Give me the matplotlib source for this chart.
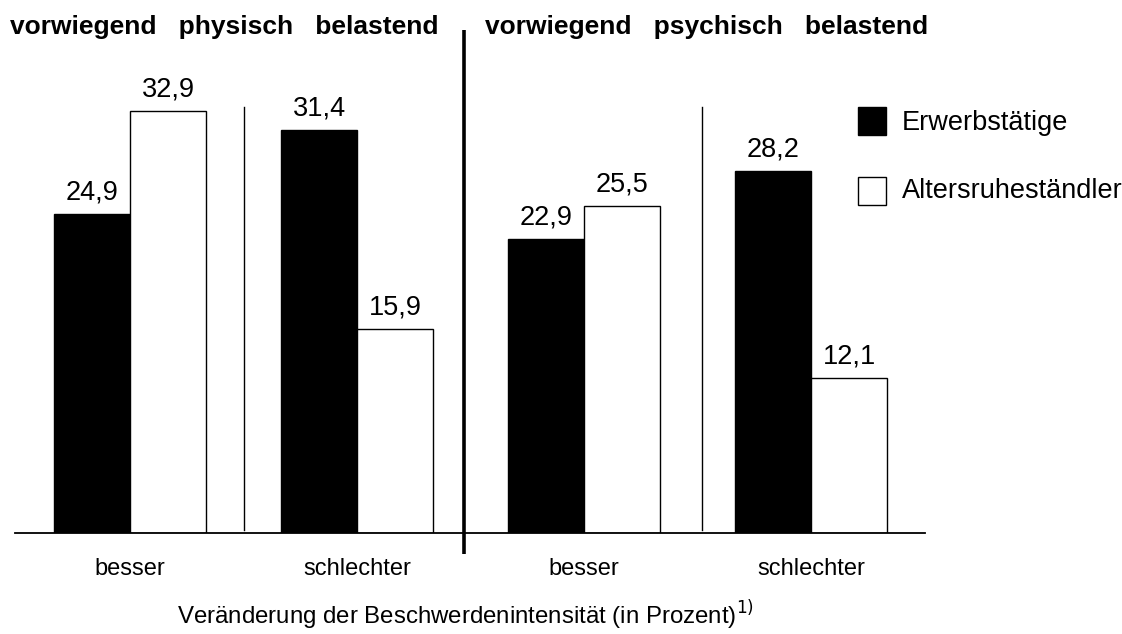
import matplotlib
matplotlib.use("Agg")
import matplotlib.pyplot as plt
from matplotlib.patches import Rectangle
import numpy as np

plt.rcParams['font.family'] = ['Liberation Sans', 'DejaVu Sans']

categories = ["besser", "schlechter", "besser", "schlechter"]
erwerbstaetige = [24.9, 31.4, 22.9, 28.2]
altersruhe = [32.9, 15.9, 25.5, 12.1]
series_names = ["Erwerbstätige", "Altersruheständler"]
titles = ["vorwiegend   physisch   belastend", "vorwiegend   psychisch   belastend"]
xlabel = "Veränderung der Beschwerdenintensität (in Prozent)$^{1)}$"

W, H = 1122, 634
fig = plt.figure(figsize=(W/100, H/100), dpi=100)
ax_l, ax_r, ax_b, ax_t = 15, 925, 533, 84
ax = fig.add_axes([ax_l/W, (H-ax_b)/H, (ax_r-ax_l)/W, (ax_b-ax_t)/H])

x = np.arange(len(categories))
bw = 0.335
ax.bar(x - bw/2, erwerbstaetige, bw, color='black', edgecolor='black', linewidth=1)
ax.bar(x + bw/2, altersruhe, bw, color='white', edgecolor='black', linewidth=1)

for xi, v in zip(x - bw/2, erwerbstaetige):
    ax.annotate(f"{v:.1f}".replace('.', ','), (xi, v), xytext=(0, 6), textcoords='offset points',
                ha='center', va='bottom', fontsize=19.5)
for xi, v in zip(x + bw/2, altersruhe):
    ax.annotate(f"{v:.1f}".replace('.', ','), (xi, v), xytext=(0, 6), textcoords='offset points',
                ha='center', va='bottom', fontsize=19.5)

ax.set_xlim(-0.507, 3.502)
ax.set_ylim(0, 35)

# thin group separators
for sx in [0.5, 2.52]:
    ax.plot([sx, sx], [0.2, 33.2], color='black', lw=1.0)
# thick panel separator
ax.plot([1.47, 1.47], [-1.65, 39.2], color='black', lw=2.6, clip_on=False, solid_capstyle='butt')

for s in ['top', 'right', 'left']:
    ax.spines[s].set_visible(False)
ax.spines['bottom'].set_linewidth(1.3)
ax.set_yticks([])
ax.set_xticks(x)
ax.set_xticklabels(categories, fontsize=17)
ax.tick_params(axis='x', length=0, pad=18)

fig.text(10/W, 1-27/H, titles[0], fontsize=19, fontweight='bold', ha='left', va='center')
fig.text(485/W, 1-27/H, titles[1], fontsize=19, fontweight='bold', ha='left', va='center')
fig.text(466/W, 1-615/H, xlabel, fontsize=17.3, ha='center', va='center')

# legend
fig.patches.append(Rectangle((858/W, 1-135/H), 28/W, 28/H, transform=fig.transFigure,
                             facecolor='black', edgecolor='black', lw=1))
fig.patches.append(Rectangle((858/W, 1-205/H), 28/W, 28/H, transform=fig.transFigure,
                             facecolor='white', edgecolor='black', lw=1))
fig.text(902/W, 1-123/H, series_names[0], fontsize=19.5, ha='left', va='center')
fig.text(902/W, 1-191/H, series_names[1], fontsize=19.5, ha='left', va='center')

fig.savefig("out.png", dpi=100)
